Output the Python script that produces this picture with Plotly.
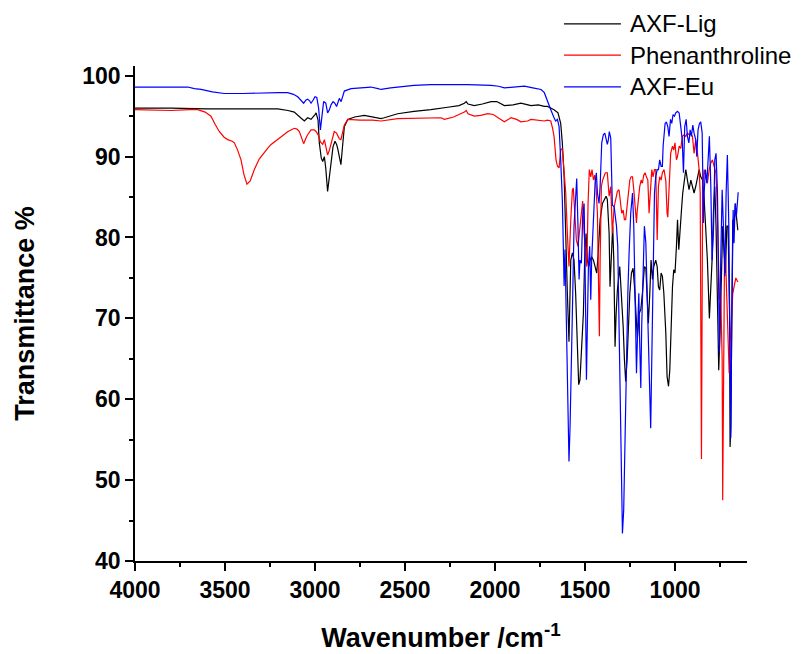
import plotly.graph_objects as go

# ---------------- data ----------------
lig_wn = [4000, 3800, 3600, 3400, 3207, 3150, 3115, 3080, 3059, 3041, 3022, 3000, 2994, 2983, 2976, 2965, 2957, 2948, 2940, 2930,
          2920, 2911, 2900, 2889, 2880, 2874, 2865, 2856, 2848, 2837, 2818, 2780, 2726, 2680, 2633, 2615, 2541, 2450, 2356, 2263,
          2200, 2170, 2160, 2150, 2115, 2070, 2022, 1990, 1948, 1900, 1856, 1800, 1760, 1726,
          1709, 1672, 1650, 1635, 1626, 1616, 1607, 1598, 1589, 1579, 1570, 1561, 1552, 1542, 1535, 1528, 1520, 1515, 1509, 1502,
          1494, 1487, 1479, 1472, 1463, 1453, 1446, 1435, 1428, 1416, 1403, 1394, 1383, 1376, 1366, 1361, 1353, 1346, 1340, 1333,
          1327, 1320, 1307, 1298, 1288, 1281, 1274, 1266, 1259, 1251, 1242, 1233, 1225, 1218, 1209, 1199, 1190, 1181, 1170, 1162,
          1155, 1148, 1140, 1133, 1125, 1118, 1107, 1099, 1092, 1085, 1077, 1070, 1062, 1051, 1044, 1036, 1029, 1022, 1014, 1007,
          1000, 992, 986, 979, 972, 964, 957, 949, 940, 931, 922, 912, 903, 894, 885, 875, 866, 857, 847, 838,
          829, 820, 809, 801, 794, 786, 779, 772, 764, 757, 749, 742, 735, 727, 720, 712, 705, 697, 694, 690,
          685, 679, 672, 664, 657, 651]
lig_t = [96.0, 96.0, 95.9, 95.9, 95.9, 95.7, 95.5, 94.8, 94.4, 94.8, 94.6, 95.2, 95.4, 94.5, 91.7, 89.8, 89.4, 90.0, 88.5, 85.7,
         87.5, 89.6, 91.2, 91.9, 91.5, 91.0, 89.8, 89.0, 91.0, 93.7, 94.6, 94.9, 95.1, 94.9, 94.7, 94.8, 95.3, 95.6, 95.8, 96.1,
         96.3, 96.6, 96.8, 96.5, 96.3, 96.5, 96.8, 96.8, 96.3, 96.4, 96.6, 96.3, 96.4, 96.2,
         96.2, 95.8, 95.4, 94.1, 91.7, 87.5, 78.9, 73.1, 67.1, 77.2, 78.1, 77.2, 73.1, 64.9, 61.8, 62.4, 66.1, 66.5, 70.6, 77.2,
         80.5, 77.2, 76.4, 77.2, 77.6, 77.2, 76.4, 75.6, 77.6, 82.2, 84.2, 84.7, 85.1, 84.7, 80.5, 73.9, 77.2, 81.4, 77.2, 66.5,
         70.6, 73.5, 76.4, 73.1, 69.0, 64.9, 62.2, 64.9, 69.8, 73.1, 75.6, 76.2, 73.9, 70.6, 67.5, 70.6, 71.1, 73.1, 76.4, 76.2,
         73.1, 69.4, 73.1, 77.2, 74.8, 76.4, 77.2, 76.4, 73.9, 73.5, 75.6, 75.2, 73.1, 68.2, 62.8, 61.6, 63.6, 69.0, 73.9, 76.0,
         75.6, 78.9, 82.2, 78.5, 81.4, 83.4, 85.5, 87.1, 88.4, 87.1, 85.9, 87.1, 86.1, 85.5, 86.3, 87.5, 88.4, 87.5, 87.1, 84.7,
         81.4, 77.2, 70.0, 73.1, 77.2, 83.4, 86.3, 81.4, 73.1, 63.6, 69.0, 77.2, 81.4, 78.1, 75.6, 81.4, 81.4, 70.6, 54.1, 56.6,
         69.0, 82.2, 81.4, 84.2, 82.2, 80.9]

phen_wn = [4000, 3800, 3700, 3652, 3610, 3578, 3555, 3532, 3505, 3485, 3460, 3448, 3430, 3411, 3395, 3378, 3360, 3337, 3310, 3281,
           3260, 3244, 3215, 3189, 3150, 3115, 3100, 3087, 3075, 3063, 3050, 3041, 3022, 3005, 2994, 2980, 2970, 2957, 2948, 2940,
           2930, 2920, 2911, 2900, 2893, 2880, 2874, 2865, 2856, 2846, 2837, 2818, 2750, 2680, 2633, 2541, 2400, 2300, 2281, 2230,
           2170, 2160, 2150, 2115, 2080, 2040, 2010, 1980, 1948, 1911, 1880, 1856, 1820, 1800, 1760, 1726,
           1709, 1690, 1680, 1672, 1661, 1653, 1644, 1635, 1626, 1616, 1607, 1598, 1589, 1579, 1570, 1565, 1557, 1548, 1539, 1529,
           1518, 1513, 1505, 1498, 1490, 1483, 1476, 1468, 1461, 1453, 1446, 1439, 1431, 1424, 1420, 1416, 1409, 1402, 1394, 1387,
           1376, 1366, 1357, 1348, 1338, 1329, 1320, 1311, 1303, 1296, 1288, 1281, 1274, 1266, 1259, 1251, 1244, 1236, 1229, 1222,
           1214, 1211, 1203, 1196, 1188, 1181, 1174, 1166, 1159, 1151, 1144, 1136, 1129, 1122, 1114, 1107, 1099, 1092, 1085, 1077,
           1070, 1061, 1051, 1044, 1040, 1033, 1024, 1014, 1007, 1000, 992,
           986, 977, 968, 959, 949, 940, 931, 922, 912, 903, 894, 885, 875, 866, 860, 857, 853, 849, 846, 838,
           829, 820, 810, 801, 792, 783, 773, 768, 760, 753, 746, 738, 735, 731, 725, 720, 712, 705, 699, 694,
           686, 679, 672, 662, 651]
phen_t = [95.8, 95.7, 95.8, 95.8, 95.5, 95.0, 94.0, 93.1, 92.4, 92.1, 91.9, 91.7, 90.8, 89.6, 87.8, 86.6, 87.0, 88.4, 89.7, 90.6,
          91.1, 91.5, 92.0, 92.5, 93.1, 93.5, 93.4, 93.1, 92.3, 91.6, 92.3, 92.7, 93.3, 93.3, 93.1, 92.6, 91.8, 91.5, 92.1, 91.2,
          90.2, 90.8, 91.5, 92.6, 93.1, 92.9, 92.6, 92.2, 92.1, 93.0, 93.9, 94.6, 94.5, 94.5, 94.4, 94.7, 94.8, 94.8, 94.6, 94.9,
          95.5, 95.7, 95.3, 95.0, 95.1, 95.3, 95.2, 94.8, 94.3, 94.8, 94.6, 94.3, 94.4, 94.6, 94.5, 94.4,
          94.5, 94.4, 93.5, 92.5, 89.6, 88.8, 88.6, 90.8, 91.0, 88.0, 85.5, 80.5, 76.4, 82.2, 85.9, 86.1, 82.6, 79.7, 78.9, 81.4,
          84.2, 84.5, 80.5, 78.1, 76.4, 84.2, 88.4, 87.5, 88.4, 87.1, 87.7, 86.3, 83.0, 73.1, 67.8, 77.2, 86.3, 87.1, 87.7, 88.0,
          88.0, 85.1, 86.3, 80.5, 83.8, 84.7, 85.7, 85.9, 84.2, 83.0, 83.4, 82.2, 82.2, 84.2, 85.5, 87.1, 87.5, 87.5, 85.9, 83.8,
          81.8, 83.0, 84.7, 86.3, 87.1, 86.7, 87.7, 88.0, 87.5, 87.1, 83.0, 86.3, 88.4, 87.5, 88.4, 88.4, 79.7, 86.3, 87.5, 87.1,
          88.0, 88.4, 87.0, 83.0, 82.5, 86.0, 90.4, 91.3, 90.8, 91.7, 89.6,
          90.0, 91.3, 91.0, 92.5, 92.7, 92.5, 92.9, 92.7, 92.9, 92.5, 90.4, 92.1, 90.4, 88.4, 85.5, 73.1, 52.6, 73.1, 86.3, 88.4,
          87.5, 86.7, 88.4, 89.2, 89.6, 88.8, 88.0, 85.5, 77.2, 72.3, 73.1, 64.9, 47.5, 64.9, 77.2, 78.1, 73.1, 66.9, 63.2, 66.9,
          71.1, 73.1, 73.9, 75.0, 74.5]

eu_wn = [4000, 3850, 3750, 3707, 3670, 3633, 3570, 3504, 3400, 3281, 3200, 3152, 3120, 3096, 3075, 3063, 3050, 3041, 3030, 3022,
         3010, 3000, 2990, 2980, 2970, 2960, 2952, 2940, 2930, 2920, 2911, 2900, 2890, 2880, 2872, 2865, 2855, 2845, 2837, 2800,
         2750, 2689, 2650, 2633, 2580, 2541, 2450, 2356, 2250, 2150, 2022, 1980, 1948, 1900, 1837, 1790, 1744, 1726,
         1709, 1690, 1672, 1663, 1653, 1644, 1635, 1626, 1620, 1616, 1611, 1607, 1602, 1594, 1589, 1583, 1576, 1568, 1561, 1552,
         1546, 1539, 1533, 1528, 1520, 1513, 1505, 1500, 1492, 1487, 1481, 1474, 1468, 1463, 1455, 1444, 1437, 1431, 1422, 1416,
         1407, 1398, 1390, 1381, 1376, 1370, 1365, 1357, 1348, 1338, 1333, 1325, 1318, 1311, 1301, 1292, 1285, 1277, 1270, 1262,
         1255, 1246, 1236, 1229, 1222, 1214, 1207, 1201, 1196, 1190, 1185, 1177, 1170, 1162, 1155, 1148, 1140, 1135, 1129, 1122,
         1114, 1107, 1099, 1092, 1085, 1077, 1070, 1066, 1061, 1055, 1048, 1040, 1033, 1025, 1018, 1011, 1003, 996, 986,
         977, 968, 960, 953, 946, 938, 931, 923, 916, 909, 901, 894, 885, 879, 872, 864, 857, 849, 842, 838,
         831, 823, 816, 809, 801, 794, 786, 779, 772, 764, 757, 753, 746, 738, 731, 723, 716, 709, 701, 696,
         690, 685, 677, 672, 666, 659, 653, 649]
eu_t = [98.6, 98.6, 98.6, 98.6, 98.4, 98.3, 98.0, 97.8, 97.8, 97.9, 97.9, 97.9, 97.7, 97.4, 96.9, 96.6, 97.0, 97.1, 96.9, 96.6,
        97.0, 97.4, 97.3, 96.0, 93.3, 95.0, 96.8, 96.6, 95.4, 95.8, 96.4, 96.8, 96.6, 96.2, 96.8, 97.2, 96.8, 97.5, 98.1, 98.4,
        98.5, 98.6, 98.4, 98.3, 98.5, 98.6, 98.8, 98.9, 98.9, 98.9, 98.8, 98.7, 98.5, 98.6, 98.7, 98.5, 98.3, 97.9,
        96.8, 95.8, 94.8, 94.4, 94.6, 93.7, 89.6, 84.7, 78.5, 74.0, 78.5, 74.0, 64.9, 56.6, 52.3, 56.6, 62.8, 73.1, 81.4, 86.3,
        87.3, 81.4, 74.8, 77.2, 76.8, 82.6, 84.2, 77.2, 62.4, 69.0, 76.4, 78.9, 72.3, 77.2, 81.4, 86.7, 88.0, 85.5, 84.2, 86.3,
        91.7, 92.7, 92.9, 92.1, 91.5, 92.1, 93.1, 92.3, 84.0, 83.8, 83.0, 81.4, 78.9, 69.0, 56.6, 43.4, 46.3, 56.6, 64.9, 73.1,
        78.1, 83.0, 85.5, 81.4, 73.1, 63.2, 69.0, 73.1, 66.9, 61.4, 69.0, 75.2, 81.4, 79.3, 73.1, 66.9, 60.7, 56.4, 64.9, 77.2,
        85.5, 87.5, 88.4, 88.4, 89.6, 88.8, 88.8, 91.3, 92.9, 94.1, 94.3, 93.7, 92.5, 94.6, 94.1, 95.2, 95.0, 95.4, 95.6,
        95.4, 93.7, 92.1, 88.0, 93.7, 94.6, 92.5, 91.7, 93.3, 92.5, 93.9, 92.9, 92.1, 90.0, 93.3, 94.1, 94.3, 92.9, 81.8, 85.5,
        88.4, 86.7, 89.6, 92.5, 86.3, 77.2, 81.0, 89.6, 90.4, 85.5, 73.1, 65.7, 77.2, 85.9, 81.4, 75.2, 85.5, 90.2, 81.4, 66.9,
        55.2, 69.0, 83.4, 79.3, 84.2, 82.6, 84.5, 85.6]

series_names = ["AXF-Lig", "Phenanthroline", "AXF-Eu"]
series_colors = ["#000000", "#ff0000", "#0000ff"]
x_ticks = [4000, 3500, 3000, 2500, 2000, 1500, 1000]
x_minor = [3750, 3250, 2750, 2250, 1750, 1250, 750]
y_ticks = [40, 50, 60, 70, 80, 90, 100]
y_minor = [45, 55, 65, 75, 85, 95]

# ---------------- figure ----------------
fig = go.Figure()
for name, color, xs, ys in zip(series_names, series_colors,
                               [lig_wn, phen_wn, eu_wn], [lig_t, phen_t, eu_t]):
    fig.add_trace(go.Scatter(x=xs, y=ys, mode="lines", name=name,
                             line=dict(color=color, width=1.2), showlegend=False))

font_family = "Liberation Sans, Arial, sans-serif"

# legend drawn as line samples + text (position like the reference)
leg_y = [1.085, 1.022, 0.958]
for name, color, yy in zip(series_names, series_colors, leg_y):
    fig.add_shape(type="line", xref="paper", yref="paper", x0=0.701, x1=0.794, y0=yy, y1=yy,
                  line=dict(color=color, width=1.2))
    fig.add_annotation(xref="paper", yref="paper", x=0.806, y=yy, text=name, showarrow=False,
                       xanchor="left", yanchor="middle",
                       font=dict(family=font_family, size=24, color="black"))

axis_common = dict(
    showline=True, linecolor="black", linewidth=1.5, mirror=False,
    ticks="outside", ticklen=8, tickwidth=1.5, tickcolor="black",
    showgrid=False, zeroline=False, automargin=False,
    tickfont=dict(family=font_family, size=23, color="black", weight="bold"),
)

fig.update_xaxes(range=[4000, 600], tickmode="array", tickvals=x_ticks,
                 minor=dict(tickmode="array", tickvals=x_minor, ticks="outside", ticklen=4,
                            tickwidth=1.5, tickcolor="black", showgrid=False),
                 title=dict(text="Wavenumber /cm<sup>-1</sup>", standoff=26,
                            font=dict(family=font_family, size=27, color="black", weight="bold")),
                 **axis_common)
fig.update_yaxes(range=[40, 101.2], tickmode="array", tickvals=y_ticks,
                 minor=dict(tickmode="array", tickvals=y_minor, ticks="outside", ticklen=4,
                            tickwidth=1.5, tickcolor="black", showgrid=False),
                 title=dict(text="Transmittance %", standoff=40,
                            font=dict(family=font_family, size=27, color="black", weight="bold")),
                 **axis_common)

# the page adds an 8 px body margin, so the figure is sized to fit the window
fig.update_layout(width=796, height=646,
                  margin=dict(l=127, r=57, t=58, b=93),
                  paper_bgcolor="white", plot_bgcolor="white",
                  showlegend=False)

fig.write_html("out.html")
